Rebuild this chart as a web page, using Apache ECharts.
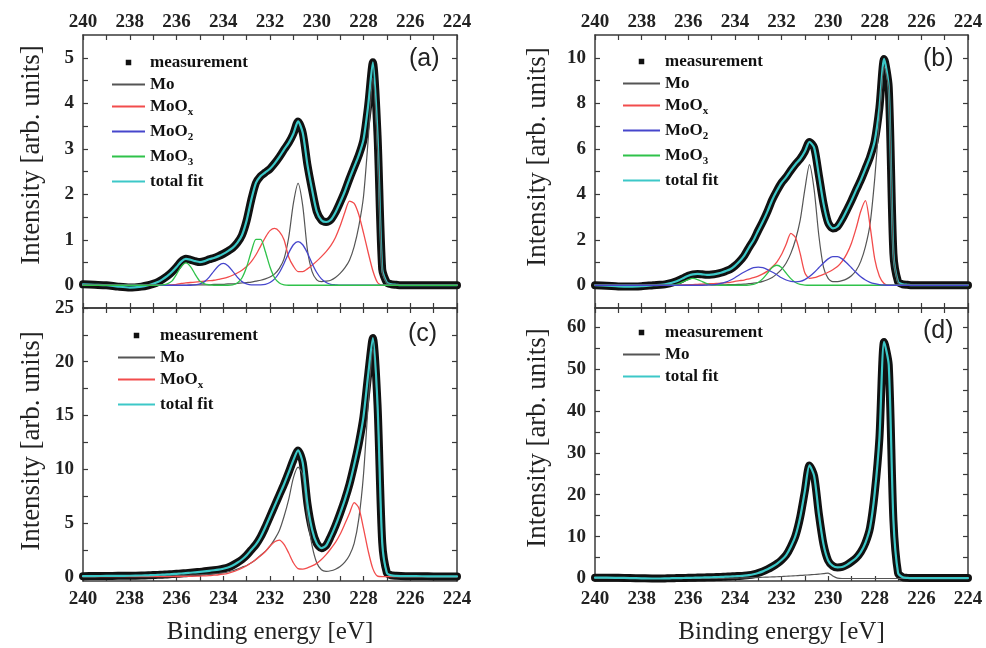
<!DOCTYPE html>
<html>
<head>
<meta charset="utf-8">
<script src="https://cdn.jsdelivr.net/npm/echarts@6/dist/echarts.min.js"></script>
<style>html,body{margin:0;padding:0;background:#fff}#chart{width:986px;height:648px}</style>
</head>
<body>
<div id="chart"></div>
<script>
// ---- shared binding-energy grid (eV) ----
const energy = [
  240, 239.5, 239, 238.5, 238, 237.5,
  237.2, 237.0, 236.8, 236.6, 236.4, 236.2, 236.0, 235.8, 235.6, 235.4,
  235.2, 235.0, 234.8, 234.6, 234.4, 234.2, 234.0, 233.8, 233.6, 233.4,
  233.2, 233.0, 232.8, 232.6, 232.4, 232.2, 232.0, 231.8, 231.6, 231.4,
  231.2, 231.0, 230.8, 230.6, 230.4, 230.2, 230.0, 229.8, 229.6, 229.4,
  229.2, 229.0, 228.8, 228.6, 228.4, 228.2, 228.0, 227.8, 227.6, 227.4,
  227.2, 227.0, 226.8, 226.6, 226.4, 226.2, 226.0,
  225.5, 225, 224.5, 224
];

// ---- panel (a) ----
const aSpectrum = [
  0.02, 0.01, 0.0, -0.03, -0.05, -0.03,
  0.0, 0.03, 0.07, 0.13, 0.2, 0.29, 0.4, 0.52, 0.58, 0.56,
  0.53, 0.51, 0.53, 0.57, 0.6, 0.64, 0.69, 0.75, 0.82, 0.93,
  1.1, 1.42, 1.88, 2.25, 2.4, 2.48, 2.56, 2.68, 2.82, 2.98,
  3.13, 3.33, 3.6, 3.35, 2.65, 2.1, 1.62, 1.43, 1.39, 1.44,
  1.6, 1.82, 2.06, 2.34, 2.6, 2.86, 3.2, 3.95, 4.9, 3.3,
  0.35, 0.06, 0.02, 0.01, 0.0, 0.0, 0.0,
  0.0, 0.0, 0.0, 0.0
];
const aMo = [
  0, 0, 0, 0, 0, 0,
  0, 0, 0, 0, 0, 0, 0, 0, 0, 0.01,
  0.01, 0.01, 0.01, 0.01, 0.02, 0.02, 0.02, 0.03, 0.03, 0.04,
  0.05, 0.06, 0.07, 0.09, 0.11, 0.14, 0.18, 0.25, 0.37, 0.58,
  1.05, 1.8, 2.24, 1.75, 0.78, 0.3, 0.12, 0.08, 0.09, 0.11,
  0.17, 0.26, 0.38, 0.55, 0.85, 1.3, 1.95, 3.2, 4.55, 3.0,
  0.3, 0.04, 0.01, 0, 0, 0, 0,
  0, 0, 0, 0
];
const aMoOx = [
  0, 0, 0, 0, 0, 0,
  0, 0, 0, 0, 0, 0.01, 0.02, 0.04, 0.05, 0.06,
  0.07, 0.08, 0.09, 0.1, 0.11, 0.13, 0.15, 0.18, 0.22, 0.27,
  0.33, 0.41, 0.52, 0.67, 0.86, 1.05, 1.2, 1.25, 1.18, 1.0,
  0.62, 0.42, 0.3, 0.3, 0.36, 0.44, 0.53, 0.63, 0.74, 0.87,
  1.05, 1.3, 1.6, 1.85, 1.8, 1.55, 1.15, 0.72, 0.32, 0.06,
  0, 0, 0, 0, 0, 0, 0,
  0, 0, 0, 0
];
const aMoO2 = [
  0, 0, 0, 0, 0, 0,
  0, 0, 0, 0, 0, 0, 0, 0, 0, 0,
  0.01, 0.03, 0.08, 0.18, 0.31, 0.43, 0.48, 0.43, 0.31, 0.18,
  0.08, 0.03, 0.01, 0.01, 0.01, 0.02, 0.06, 0.14, 0.28, 0.48,
  0.71, 0.89, 0.96, 0.89, 0.71, 0.48, 0.28, 0.14, 0.06, 0.02,
  0.01, 0, 0, 0, 0, 0, 0, 0, 0, 0,
  0, 0, 0, 0, 0, 0, 0,
  0, 0, 0, 0
];
const aMoO3 = [
  0, 0, 0, 0, 0, 0,
  0, 0, 0, 0.01, 0.03, 0.09, 0.24, 0.41, 0.49, 0.41,
  0.24, 0.09, 0.03, 0.01, 0, 0, 0, 0, 0.01, 0.05,
  0.16, 0.4, 0.74, 1.01, 1.01, 0.74, 0.4, 0.16, 0.05, 0.01,
  0, 0, 0, 0, 0, 0, 0, 0, 0, 0,
  0, 0, 0, 0, 0, 0, 0, 0, 0, 0,
  0, 0, 0, 0, 0, 0, 0,
  0, 0, 0, 0
];

// ---- panel (b) ----
const bSpectrum = [
  0.0, -0.02, -0.05, -0.06, -0.04, 0.0,
  0.02, 0.04, 0.08, 0.14, 0.22, 0.32, 0.42, 0.48, 0.5, 0.48,
  0.46, 0.47, 0.5, 0.55, 0.62, 0.7, 0.85, 1.05, 1.3, 1.65,
  1.98, 2.4, 2.8, 3.25, 3.75, 4.15, 4.5, 4.75, 5.05, 5.32,
  5.55, 5.88, 6.3, 6.05, 4.85, 3.6, 2.75, 2.5, 2.58, 2.9,
  3.3, 3.72, 4.18, 4.62, 5.12, 5.64, 6.35, 7.8, 9.95, 8.7,
  1.4, 0.15, 0.04, 0.02, 0.0, 0.0, 0.0,
  0.0, 0.0, 0.0, 0.0
];
const bMo = [
  0, 0, 0, 0, 0, 0,
  0, 0, 0, 0, 0, 0, 0.01, 0.01, 0.01, 0.01,
  0.01, 0.01, 0.02, 0.02, 0.02, 0.03, 0.03, 0.04, 0.05, 0.07,
  0.09, 0.12, 0.17, 0.24, 0.34, 0.5, 0.7, 0.98, 1.4, 2.0,
  2.85, 4.2, 5.3, 4.2, 2.2, 0.8, 0.3, 0.16, 0.16, 0.2,
  0.28, 0.42, 0.65, 1.05, 1.7, 2.7, 4.7, 7.3, 9.6, 8.6,
  1.3, 0.1, 0, 0, 0, 0, 0,
  0, 0, 0, 0
];
const bMoOx = [
  0, 0, 0, 0, 0, 0,
  0, 0, 0, 0, 0.01, 0.01, 0.02, 0.03, 0.04, 0.05,
  0.06, 0.07, 0.08, 0.09, 0.11, 0.13, 0.17, 0.2, 0.23, 0.28,
  0.33, 0.4, 0.5, 0.62, 0.8, 1.02, 1.35, 1.8, 2.28, 2.1,
  1.4, 0.55, 0.3, 0.33, 0.4, 0.48, 0.57, 0.68, 0.82, 1.05,
  1.38, 1.85, 2.5, 3.25, 3.72, 2.6, 1.15, 0.4, 0.08, 0,
  0, 0, 0, 0, 0, 0, 0,
  0, 0, 0, 0
];
const bMoO2 = [
  0, 0, 0, 0, 0, 0,
  0, 0, 0, 0, 0, 0, 0, 0, 0, 0,
  0.01, 0.02, 0.04, 0.08, 0.14, 0.22, 0.33, 0.46, 0.58, 0.69,
  0.77, 0.8, 0.77, 0.69, 0.58, 0.46, 0.33, 0.23, 0.17, 0.15,
  0.17, 0.25, 0.38, 0.56, 0.77, 0.98, 1.16, 1.26, 1.26, 1.16,
  0.98, 0.77, 0.56, 0.37, 0.23, 0.13, 0.07, 0.03, 0.01, 0,
  0, 0, 0, 0, 0, 0, 0,
  0, 0, 0, 0
];
const bMoO3 = [
  0, 0, 0, 0, 0, 0,
  0, 0, 0.01, 0.02, 0.07, 0.16, 0.25, 0.3, 0.25, 0.16,
  0.07, 0.02, 0.01, 0, 0, 0, 0, 0, 0, 0.01,
  0.04, 0.12, 0.29, 0.53, 0.78, 0.88, 0.78, 0.53, 0.29, 0.12,
  0.04, 0.01, 0, 0, 0, 0, 0, 0, 0, 0,
  0, 0, 0, 0, 0, 0, 0, 0, 0, 0,
  0, 0, 0, 0, 0, 0, 0,
  0, 0, 0, 0
];

// ---- panel (c) ----
const cSpectrum = [
  0.05, 0.06, 0.07, 0.08, 0.09, 0.11,
  0.13, 0.15, 0.17, 0.19, 0.21, 0.24, 0.27, 0.3, 0.33, 0.37,
  0.41, 0.45, 0.5, 0.55, 0.6, 0.66, 0.74, 0.85, 1.05, 1.3,
  1.6, 2.0, 2.5, 3.0, 3.7, 4.6, 5.6, 6.6, 7.6, 8.6,
  9.7, 10.85, 11.75, 10.6, 6.8, 4.4, 3.1, 2.65, 2.9, 3.75,
  4.75, 5.9, 7.15, 8.6, 10.4, 12.4, 14.9, 18.8, 22.2, 16.0,
  3.2, 0.35, 0.12, 0.08, 0.06, 0.05, 0.05,
  0.04, 0.03, 0.03, 0.03
];
const cMo = [
  0.02, 0.02, 0.03, 0.03, 0.04, 0.05,
  0.05, 0.06, 0.06, 0.07, 0.08, 0.09, 0.1, 0.11, 0.12, 0.14,
  0.16, 0.18, 0.2, 0.23, 0.26, 0.3, 0.36, 0.44, 0.55, 0.7,
  0.88, 1.05, 1.3, 1.6, 2.0, 2.35, 2.85, 3.5, 4.3, 5.6,
  7.2, 9.2, 10.2, 9.5, 5.6, 2.9, 1.3, 0.65, 0.5, 0.55,
  0.7, 0.95, 1.35, 2.0, 3.1, 5.4, 9.5, 16.0, 21.2, 15.8,
  3.0, 0.3, 0.05, 0, 0, 0, 0,
  0, 0, 0, 0
];
const cMoOx = [
  0, 0, 0, 0, 0, 0,
  0, 0, 0, 0, 0.01, 0.01, 0.02, 0.02, 0.03, 0.04,
  0.05, 0.06, 0.08, 0.1, 0.14, 0.18, 0.24, 0.32, 0.44, 0.6,
  0.8, 1.02, 1.3, 1.62, 1.95, 2.35, 2.85, 3.25, 3.4, 3.0,
  2.2, 1.3, 0.75, 0.7, 0.82, 1.0, 1.24, 1.6, 2.05, 2.6,
  3.2, 3.95, 4.9, 5.9, 6.9, 6.4, 4.5, 2.4, 0.75, 0.05,
  0, 0, 0, 0, 0, 0, 0,
  0, 0, 0, 0
];

// ---- panel (d) ----
const dSpectrum = [
  0.2, 0.2, 0.15, 0.1, 0.05, 0.0,
  0.0, 0.02, 0.05, 0.08, 0.1, 0.12, 0.15, 0.18, 0.21, 0.24,
  0.27, 0.3, 0.34, 0.38, 0.43, 0.48, 0.54, 0.6, 0.68, 0.8,
  1.0, 1.3, 1.7, 2.2, 2.8, 3.5, 4.4, 5.6, 7.6, 10.2,
  14.6, 20.8, 27.0, 24.5, 15.5, 8.2, 4.3, 3.0, 2.65, 2.75,
  3.25, 4.0, 4.9, 6.3, 8.5, 12.2, 20.5, 33.5, 56.5, 51.0,
  14.0, 1.3, 0.3, 0.15, 0.1, 0.1, 0.1,
  0.1, 0.1, 0.1, 0.1
];
const dMo = [
  0, 0, 0, 0, 0, 0,
  0, 0, 0, 0, 0, 0, 0, 0, 0, 0,
  0, 0, 0.02, 0.04, 0.06, 0.08, 0.1, 0.12, 0.15, 0.18,
  0.21, 0.25, 0.29, 0.33, 0.37, 0.42, 0.47, 0.53, 0.59, 0.65,
  0.72, 0.8, 0.87, 0.95, 1.05, 1.15, 1.3, 0.6, 0.1, 0,
  0, 0, 0, 0, 0, 0, 0, 0, 0, 0,
  0, 0, 0, 0, 0, 0, 0,
  0, 0, 0, 0
];

// ---- ticks and tick labels ----
const xTicks  = [224,225,226,227,228,229,230,231,232,233,234,235,236,237,238,239,240];
const xLabels = [224,226,228,230,232,234,236,238,240];
const aYTicks = [0,0.5,1,1.5,2,2.5,3,3.5,4,4.5,5];
const aYLabels = [0,1,2,3,4,5];
const bYTicks = [0,1,2,3,4,5,6,7,8,9,10];
const bYLabels = [0,2,4,6,8,10];
const cYTicks = [0,2.5,5,7.5,10,12.5,15,17.5,20,22.5,25];
const cYLabels = [0,5,10,15,20,25];
const dYTicks = [0,5,10,15,20,25,30,35,40,45,50,55,60];
const dYLabels = [0,10,20,30,40,50,60];

// ---- styling ----
const SERIF = '"Liberation Serif", "DejaVu Serif", serif';
const SANS = '"Liberation Sans", Arial, sans-serif';
const COLOR = {
  'measurement': '#111111', 'total fit': '#3cc8c8', 'Mo': '#555555',
  'MoOx': '#f24c4c', 'MoO2': '#4646cc', 'MoO3': '#2fc24a'
};
const WIDTH = {
  'measurement': 8, 'total fit': 2.2, 'Mo': 1.2, 'MoOx': 1.3, 'MoO2': 1.3, 'MoO3': 1.3
};
const AXIS_LINE = {color: '#3a3a3a', width: 1.5};
const TICK_LINE = {color: '#3a3a3a', width: 1.2};

const grids = [
  {left: 83, top: 35, width: 374, height: 273},
  {left: 595, top: 35, width: 373, height: 273},
  {left: 83, top: 308, width: 374, height: 273},
  {left: 595, top: 308, width: 373, height: 273}
];

const panels = [
  {tag: '(a)', tagPos: [409, 47], yMin: -0.5, yMax: 5.5, yTicks: aYTicks, yLabels: aYLabels,
   order: [['measurement', aSpectrum], ['total fit', aSpectrum], ['Mo', aMo], ['MoOx', aMoOx], ['MoO2', aMoO2], ['MoO3', aMoO3]],
   legend: ['measurement', 'Mo', 'MoOx', 'MoO2', 'MoO3', 'total fit'], legendPos: [112, 54], legendW: 33, yTitle: [32, 155]},
  {tag: '(b)', tagPos: [923, 47], yMin: -1, yMax: 11, yTicks: bYTicks, yLabels: bYLabels,
   order: [['measurement', bSpectrum], ['total fit', bSpectrum], ['Mo', bMo], ['MoOx', bMoOx], ['MoO3', bMoO3], ['MoO2', bMoO2]],
   legend: ['measurement', 'Mo', 'MoOx', 'MoO2', 'MoO3', 'total fit'], legendPos: [623, 53], legendW: 37, yTitle: [538, 157]},
  {tag: '(c)', tagPos: [408, 322], yMin: -0.4, yMax: 25, yTicks: cYTicks, yLabels: cYLabels,
   order: [['measurement', cSpectrum], ['Mo', cMo], ['MoOx', cMoOx], ['total fit', cSpectrum]],
   legend: ['measurement', 'Mo', 'MoOx', 'total fit'], legendPos: [118, 327], legendW: 37, yTitle: [32, 441]},
  {tag: '(d)', tagPos: [923, 319], yMin: -0.6, yMax: 64.6, yTicks: dYTicks, yLabels: dYLabels,
   order: [['measurement', dSpectrum], ['Mo', dMo], ['total fit', dSpectrum]],
   legend: ['measurement', 'Mo', 'total fit'], legendPos: [623, 324], legendW: 37, yTitle: [538, 438]}
];

const xAxes = [], yAxes = [], series = [], legends = [], titles = [], graphics = [];

panels.forEach((p, i) => {
  const bottomRow = i >= 2;
  ['bottom', 'top'].forEach(pos => {
    const labelled = (pos === 'bottom') === bottomRow;
    xAxes.push({
      type: 'value', gridIndex: i, position: pos, min: 224, max: 240, inverse: true,
      axisLine: {show: true, onZero: false, lineStyle: AXIS_LINE},
      axisTick: {show: true, inside: true, length: 5, customValues: xTicks, lineStyle: TICK_LINE},
      axisLabel: {show: labelled, customValues: xLabels, margin: pos === 'top' ? 3 : 9,
        fontFamily: SERIF, fontWeight: 'bold', fontSize: 19, color: '#222'},
      splitLine: {show: false},
      name: (pos === 'bottom' && bottomRow) ? 'Binding energy [eV]' : '',
      nameLocation: 'middle', nameGap: 39,
      nameTextStyle: {fontFamily: SERIF, fontSize: 25, color: '#222'}
    });
  });
  ['left', 'right'].forEach(pos => {
    const isLeft = pos === 'left';
    yAxes.push({
      type: 'value', gridIndex: i, position: pos, min: p.yMin, max: p.yMax,
      axisLine: {show: true, onZero: false, lineStyle: AXIS_LINE},
      axisTick: {show: true, inside: true, length: 5, customValues: p.yTicks, lineStyle: TICK_LINE},
      axisLabel: {show: isLeft, customValues: p.yLabels, margin: 9,
        fontFamily: SERIF, fontWeight: 'bold', fontSize: 19, color: '#222'},
      splitLine: {show: false}
    });
  });
  p.order.forEach(([name, vals]) => {
    series.push({
      type: 'line', name: name, xAxisIndex: 2 * i, yAxisIndex: 2 * i,
      data: energy.map((e, k) => [e, vals[k]]),
      symbol: 'none', showSymbol: false, smooth: 0.25,
      lineStyle: {color: COLOR[name], width: WIDTH[name], join: 'round', cap: 'round'},
      itemStyle: {color: COLOR[name]},
      silent: true, animation: false
    });
  });
  const w = p.legendW, h = 14;
  const sq = 5.5;
  const squareIcon = 'path://M0,0h' + w + 'v0.01h-' + w + 'z M0,' + (h - 0.01) + 'h' + w + 'v0.01h-' + w + 'z M' +
    (w / 2 - sq / 2) + ',' + (h / 2 - sq / 2) + 'h' + sq + 'v' + sq + 'h-' + sq + 'z';
  const lineIcon = 'path://M0,0h' + w + 'v2h-' + w + 'z';
  legends.push({
    orient: 'vertical', left: p.legendPos[0], top: p.legendPos[1],
    itemWidth: w, itemHeight: h, itemGap: 5, padding: 0, selectedMode: false,
    data: p.legend.map(n => ({name: n, icon: n === 'measurement' ? squareIcon : lineIcon})),
    formatter: function (n) {
      if (n === 'MoOx') return '{n|MoO}{s|x}';
      if (n === 'MoO2') return '{n|MoO}{s|2}';
      if (n === 'MoO3') return '{n|MoO}{s|3}';
      return '{n|' + n + '}';
    },
    textStyle: {
      fontFamily: SERIF,
      rich: {
        n: {fontFamily: SERIF, fontWeight: 'bold', fontSize: 17, color: '#111'},
        s: {fontFamily: SERIF, fontWeight: 'bold', fontSize: 11, color: '#111', padding: [12, 0, 0, 0]}
      }
    }
  });
  titles.push({
    text: p.tag, left: p.tagPos[0], top: p.tagPos[1], padding: 0,
    textStyle: {fontFamily: SANS, fontSize: 25, fontWeight: 'normal', color: '#222'}
  });
  graphics.push({
    type: 'text', x: p.yTitle[0], y: p.yTitle[1], rotation: Math.PI / 2, silent: true,
    style: {text: 'Intensity [arb. units]', fill: '#222', font: '27px ' + SERIF,
            align: 'center', verticalAlign: 'middle'}
  });
});

const chart = echarts.init(document.getElementById('chart'), null, {renderer: 'canvas', width: 986, height: 648});
chart.setOption({
  animation: false,
  backgroundColor: '#ffffff',
  textStyle: {fontFamily: SERIF},
  title: titles,
  legend: legends,
  grid: grids,
  xAxis: xAxes,
  yAxis: yAxes,
  graphic: graphics,
  series: series
});
</script>
</body>
</html>
